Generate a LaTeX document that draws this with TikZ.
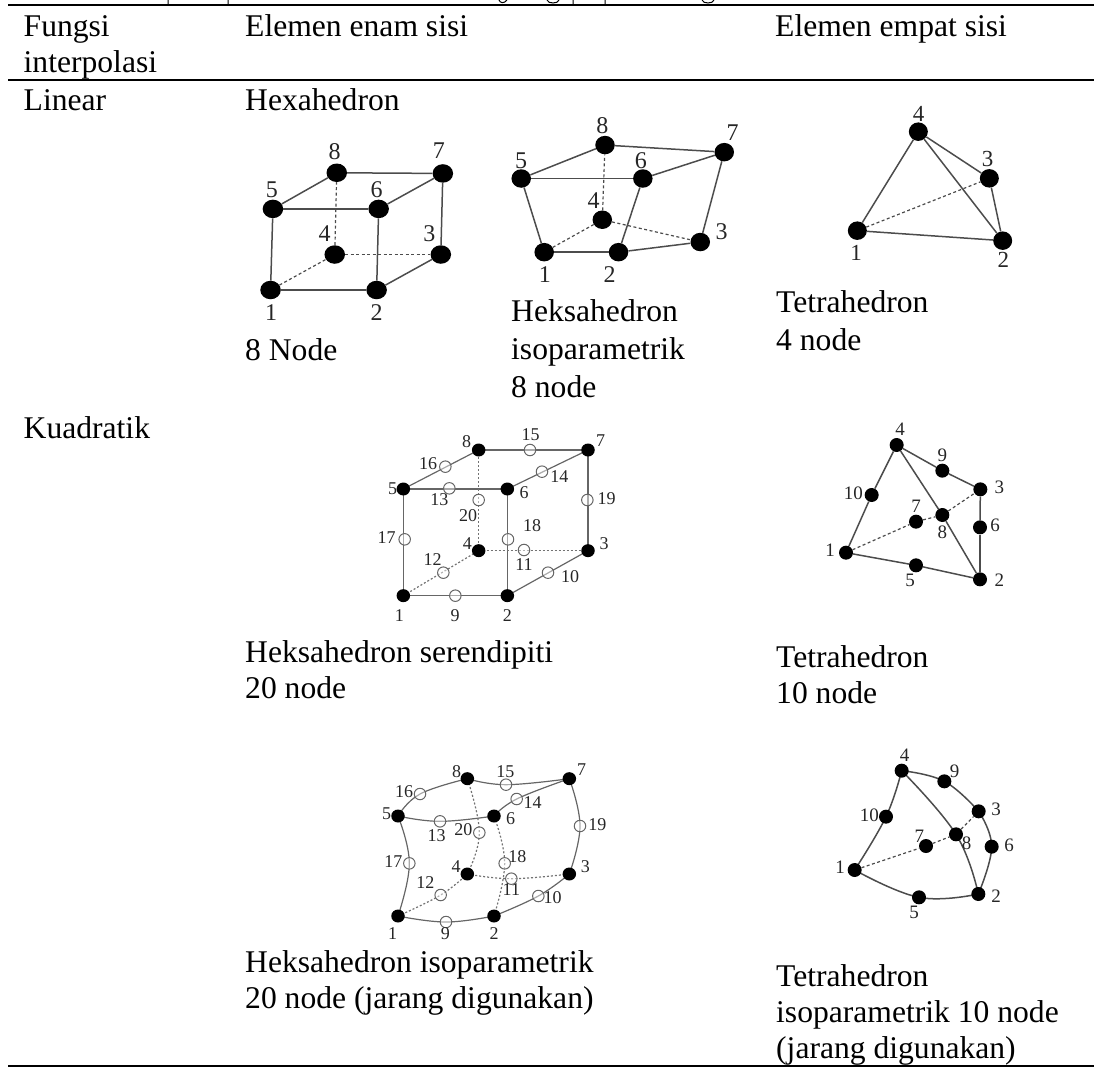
\documentclass[tikz,border=0pt]{standalone}
\usepackage{fontspec}
\setmainfont{Liberation Serif}
\usetikzlibrary{shapes.geometric}
\pgfdeclarelayer{bg}
\pgfsetlayers{bg,main}
\tikzset{
  txt/.style={anchor=base west,inner sep=0pt,font=\fontsize{31.6}{36}\selectfont},
  lab/.style={inner sep=0pt,text=black!85,font=\fontsize{#1}{#1}\selectfont},
  big/.style={ellipse,fill=black,inner sep=0pt,minimum width=20.5pt,minimum height=18.5pt},
  med/.style={ellipse,fill=black,inner sep=0pt,minimum width=13.5pt,minimum height=13pt},
  opn/.style={circle,draw=black!60,fill=white,fill opacity=.45,line width=1pt,inner sep=0pt,minimum size=11.5pt},
  edge/.style={line width=1.5pt,draw=black!70},
  thinedge/.style={line width=1.2pt,draw=black!60},
  hid/.style={line width=1.2pt,draw=black!70,dash pattern=on 3pt off 2.5pt},
  thinhid/.style={line width=1.2pt,draw=black!55,dash pattern=on 2pt off 2pt},
  rule/.style={line width=1.8pt,draw=black},
  stub/.style={line width=1pt,draw=black}
}
\begin{document}
\begin{tikzpicture}[x=1pt,y=-1pt]
\useasboundingbox (0,0) rectangle (1094,1068);
\coordinate (r1a) at (8,5); \coordinate (r1b) at (1094,5);
\coordinate (r2a) at (8,80); \coordinate (r2b) at (1094,80);
\coordinate (r3a) at (8,1066); \coordinate (r3b) at (1094,1066);
\draw[rule] (r1a)--(r1b); \draw[rule] (r2a)--(r2b); \draw[rule] (r3a)--(r3b);
% clipped line above the table
\draw[stub] (168,0)--(168,5) (228,0)--(228,5) (573,0)--(573,5) (605,0)--(605,5)
  (499,0) .. controls (500,3) and (504,4) .. (507,0)
  (547,0) .. controls (548,4) and (558,4) .. (559,0)
  (702,0) .. controls (703,4) and (713,4) .. (714,0);
% texts
\node[txt] (t1) at (23.5,36) {Fungsi};
\node[txt] (t2) at (23.5,72.7) {interpolasi};
\node[txt] (t3) at (245,36) {Elemen enam sisi};
\node[txt] (t4) at (775,36) {Elemen empat sisi};
\node[txt] (t5) at (23.5,110.7) {Linear};
\node[txt] (t6) at (245,110.7) {Hexahedron};
\node[txt] (t7) at (245,360) {8 Node};
\node[txt] (t8) at (511,321.5) {Heksahedron};
\node[txt] (t9) at (511,359.7) {isoparametrik};
\node[txt] (t10) at (511,397.6) {8 node};
\node[txt] (t11) at (776,312.4) {Tetrahedron};
\node[txt] (t12) at (776,350) {4 node};
\node[txt] (t13) at (23.5,438) {Kuadratik};
\node[txt] (t14) at (245,662) {Heksahedron serendipiti};
\node[txt] (t15) at (245,698) {20 node};
\node[txt] (t16) at (776,667) {Tetrahedron};
\node[txt] (t17) at (776,703) {10 node};
\node[txt] (t18) at (245,972) {Heksahedron isoparametrik};
\node[txt] (t19) at (245,1008.6) {20 node (jarang digunakan)};
\node[txt] (t20) at (776,986) {Tetrahedron};
\node[txt] (t21) at (776,1022.7) {isoparametrik 10 node};
\node[txt] (t22) at (776,1058.5) {(jarang digunakan)};
% hexahedron (zoom coords, origin 230,90, scale 2.96)
\foreach \n/\x/\y in {1/120/592,2/434/592,3/624/487,4/310/487,5/127/352,6/440/352,7/630/247,8/316/245}
  \node[big] (a\n) at ({230+\x/2.96},{90+\y/2.96}) {};
\foreach \u/\v in {a1/a2,a2/a3,a3/a7,a7/a8,a8/a5,a5/a1,a5/a6,a6/a7,a6/a2} \draw[edge] (\u)--(\v);
\foreach \u/\v in {a1/a4,a4/a3,a4/a8} \draw[hid] (\u)--(\v);
\foreach \n/\x/\y in {1/122/660,2/434/660,3/590/425,4/280/425,5/124/295,6/434/295,7/618/180,8/310/182}
  \node[lab=24] (al\n) at ({230+\x/2.96},{90+\y/2.96}) {\n};
% isoparametric 8
\foreach \n/\x/\y in {1/930/480,2/1150/480,3/1392/450,4/1102/384,5/862/262,6/1222/262,7/1463/184,8/1110/163}
  \node[big,minimum width=19.5pt] (b\n) at ({230+\x/2.96},{90+\y/2.96}) {};
\foreach \u/\v in {b1/b2,b2/b3,b3/b7,b7/b8,b8/b5,b5/b1,b5/b6,b6/b7,b6/b2} \draw[edge] (\u)--(\v);
\foreach \u/\v in {b1/b4,b4/b3,b4/b8} \draw[hid] (\u)--(\v);
\foreach \n/\x/\y in {1/932/545,2/1124/545,3/1455/418,4/1076/328,5/862/208,6/1216/208,7/1488/125,8/1102/105}
  \node[lab=24] (bl\n) at ({230+\x/2.96},{90+\y/2.96}) {\n};
% tetra 4
\foreach \n/\x/\y in {1/142/422,2/578/452,3/538/265,4/325/125}
  \node[big,minimum width=19pt] (c\n) at ({810+\x/3},{90+\y/3}) {};
\foreach \u/\v in {c1/c2,c2/c3,c3/c4,c4/c1,c4/c2} \draw[edge] (\u)--(\v);
\draw[hid] (c1)--(c3);
\foreach \n/\x/\y in {1/138/488,2/580/510,3/533/207,4/326/72}
  \node[lab=23] (cl\n) at ({810+\x/3},{90+\y/3}) {\n};
% serendipity 20
\foreach \n/\x/\y in {1/160/527,2/472/527,3/714/392,4/386/392,5/160/207,6/472/207,7/714/90,8/386/90}
  \node[med] (d\n) at ({350+\x/3},{420+\y/3}) {};
\foreach \n/\x/\y in {9/316/527,10/594/458,11/522/390,12/280/458,13/298/205,14/576/155,15/540/90,16/286/140,17/164/358,18/474/358,19/712/240,20/386/240}
  \node[opn] (d\n) at ({350+\x/3},{420+\y/3}) {};
\begin{pgfonlayer}{bg}
\foreach \u/\v in {d1/d2,d2/d3,d3/d7,d7/d8,d8/d5,d5/d1,d5/d6,d6/d7,d6/d2} \draw[thinedge] (\u.center)--(\v.center);
\foreach \u/\v in {d1/d4,d4/d3,d4/d8} \draw[thinhid] (\u.center)--(\v.center);
\end{pgfonlayer}
\foreach \n/\x/\y in {1/148/587,2/472/587,3/762/372,4/352/372,5/128/205,6/522/218,7/752/62,8/350/65,9/315/587,10/660/470,11/522/435,12/248/418,13/268/238,14/628/170,15/542/44,16/234/132,17/110/352,18/546/318,19/770/235,20/354/286}
  \node[lab=18] (dl\n) at ({350+\x/3},{420+\y/3}) {\n};
% isoparametric 20
\foreach \n/\x/\y in {1/144/498,2/432/498,3/658/372,4/352/372,5/144/198,6/432/198,7/658/86,8/352/86}
  \node[med] (e\n) at ({350+\x/3},{750+\y/3}) {};
\foreach \n/\x/\y in {9/288/516,10/565/438,11/484/386,12/272/435,13/270/214,14/500/147,15/468/104,16/210/132,17/178/340,18/464/340,19/690/228,20/388/248}
  \node[opn] (e\n) at ({350+\x/3},{750+\y/3}) {};
\begin{pgfonlayer}{bg}
\foreach \u/\m/\v in {e1/e9/e2,e2/e10/e3,e3/e19/e7,e7/e15/e8,e8/e16/e5,e5/e13/e6,e6/e14/e7,e5/e17/e1}
  \draw[thinedge] plot[smooth,tension=.7] coordinates {(\u.center) (\m.center) (\v.center)};
\foreach \u/\m/\v in {e1/e12/e4,e4/e11/e3,e4/e20/e8,e2/e18/e6}
  \draw[thinhid] plot[smooth,tension=.7] coordinates {(\u.center) (\m.center) (\v.center)};
\end{pgfonlayer}
\foreach \n/\x/\y in {1/128/552,2/432/552,3/706/350,4/318/350,5/110/190,6/482/205,7/695/60,8/320/64,9/286/552,10/608/442,11/484/418,12/226/398,13/260/256,14/548/158,15/466/64,16/162/126,17/130/336,18/502/320,19/742/224,20/340/240}
  \node[lab=18] (el\n) at ({350+\x/3},{750+\y/3}) {\n};
% tetra 10
\foreach \n/\x/\y in {1/108/398,2/510/478,3/511/208,4/260/75,5/318/436,6/510/322,7/318/305,8/397/285,9/397/152,10/185/225}
  \node[med,minimum width=14pt,minimum height=14pt] (f\n) at ({810+\x/3},{420+\y/3}) {};
\foreach \u/\v in {f1/f10,f10/f4,f4/f9,f9/f3,f3/f6,f6/f2,f2/f5,f5/f1,f4/f8,f8/f2} \draw[edge] (\u)--(\v);
\foreach \u/\v in {f1/f7,f7/f8,f8/f3} \draw[hid] (\u)--(\v);
\foreach \n/\x/\y in {1/60/390,2/568/480,3/568/202,4/270/28,5/300/482,6/555/315,7/318/258,8/397/338,9/397/105,10/130/220}
  \node[lab=19] (fl\n) at ({810+\x/3},{420+\y/3}) {\n};
% tetra 10 iso
\foreach \n/\x/\y in {1/134/390,2/505/462,3/506/214,4/275/92,5/327/472,6/545/320,7/348/318,8/438/283,9/403/124,10/228/230}
  \node[med,minimum width=14pt,minimum height=14pt] (g\n) at ({810+\x/3},{740+\y/3}) {};
\begin{pgfonlayer}{bg}
\foreach \u/\m/\v in {g1/g10/g4,g4/g9/g3,g3/g6/g2,g2/g5/g1,g4/g8/g2}
  \draw[edge] plot[smooth,tension=.7] coordinates {(\u.center) (\m.center) (\v.center)};
\end{pgfonlayer}
\foreach \u/\v in {g1/g7,g7/g8,g8/g3} \draw[hid] (\u)--(\v);
\foreach \n/\x/\y in {1/90/382,2/558/468,3/558/208,4/284/46,5/312/516,6/597/315,7/328/288,8/470/310,9/434/95,10/178/226}
  \node[lab=19] (gl\n) at ({810+\x/3},{740+\y/3}) {\n};
\end{tikzpicture}
\end{document}
